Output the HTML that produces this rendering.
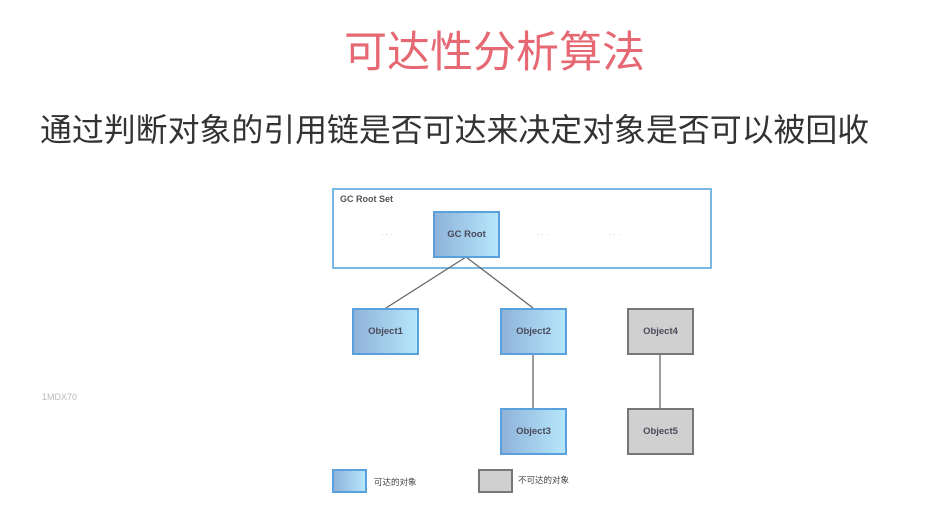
<!DOCTYPE html>
<html><head><meta charset="utf-8"><style>
body{margin:0;width:926px;height:526px;background:#fff;position:relative;overflow:hidden;font-family:"Liberation Sans","Noto Sans CJK SC",sans-serif}
.t{position:absolute;white-space:nowrap}
.b{position:absolute;box-sizing:border-box;width:67px;height:47px;border:2px solid #5aa0dc;background:linear-gradient(90deg,#8fb3d9,#b5e6fb);display:flex;align-items:center;justify-content:center;font-size:9.5px;font-weight:bold;color:#4a4a5a}
.g{border-color:#777;background:#d0d0d0}
</style></head><body>
<div class="t" style="left:344px;top:28px;font-size:43px;color:#e56873;line-height:50px">可达性分析算法</div>
<div class="t" style="left:40px;top:111px;font-size:31.9px;color:#333;line-height:38px">通过判断对象的引用链是否可达来决定对象是否可以被回收</div>
<div class="t" style="left:42px;top:392px;font-size:9px;color:#bbb">1MDX70</div>
<div style="position:absolute;left:332px;top:188px;width:380px;height:81px;box-sizing:border-box;border:2px solid #7ab8e4"></div>
<div class="t" style="left:340px;top:194px;font-size:9px;font-weight:bold;color:#555">GC Root Set</div>
<div class="t" style="left:381px;top:228px;font-size:8px;color:#bbb">. . .</div>
<div class="t" style="left:537px;top:228px;font-size:8px;color:#bbb">. . .</div>
<div class="t" style="left:609px;top:228px;font-size:8px;color:#bbb">. . .</div>
<svg style="position:absolute;left:0;top:0" width="926" height="526"><g stroke="#666" stroke-width="1.3">
<line x1="466" y1="257" x2="386" y2="308"/><line x1="466" y1="257" x2="533" y2="308"/>
<line x1="533" y1="354" x2="533" y2="408"/><line x1="660" y1="354" x2="660" y2="408"/></g></svg>
<div class="b" style="left:433px;top:211px">GC Root</div>
<div class="b" style="left:352px;top:308px">Object1</div>
<div class="b" style="left:500px;top:308px">Object2</div>
<div class="b g" style="left:627px;top:308px">Object4</div>
<div class="b" style="left:500px;top:408px">Object3</div>
<div class="b g" style="left:627px;top:408px">Object5</div>
<div class="b" style="left:332px;top:469px;width:35px;height:24px"></div>
<div class="b g" style="left:478px;top:469px;width:35px;height:24px"></div>
<div class="t" style="left:374px;top:476px;font-size:8.5px;color:#444">可达的对象</div>
<div class="t" style="left:518px;top:474px;font-size:8.5px;color:#444">不可达的对象</div>
</body></html>
